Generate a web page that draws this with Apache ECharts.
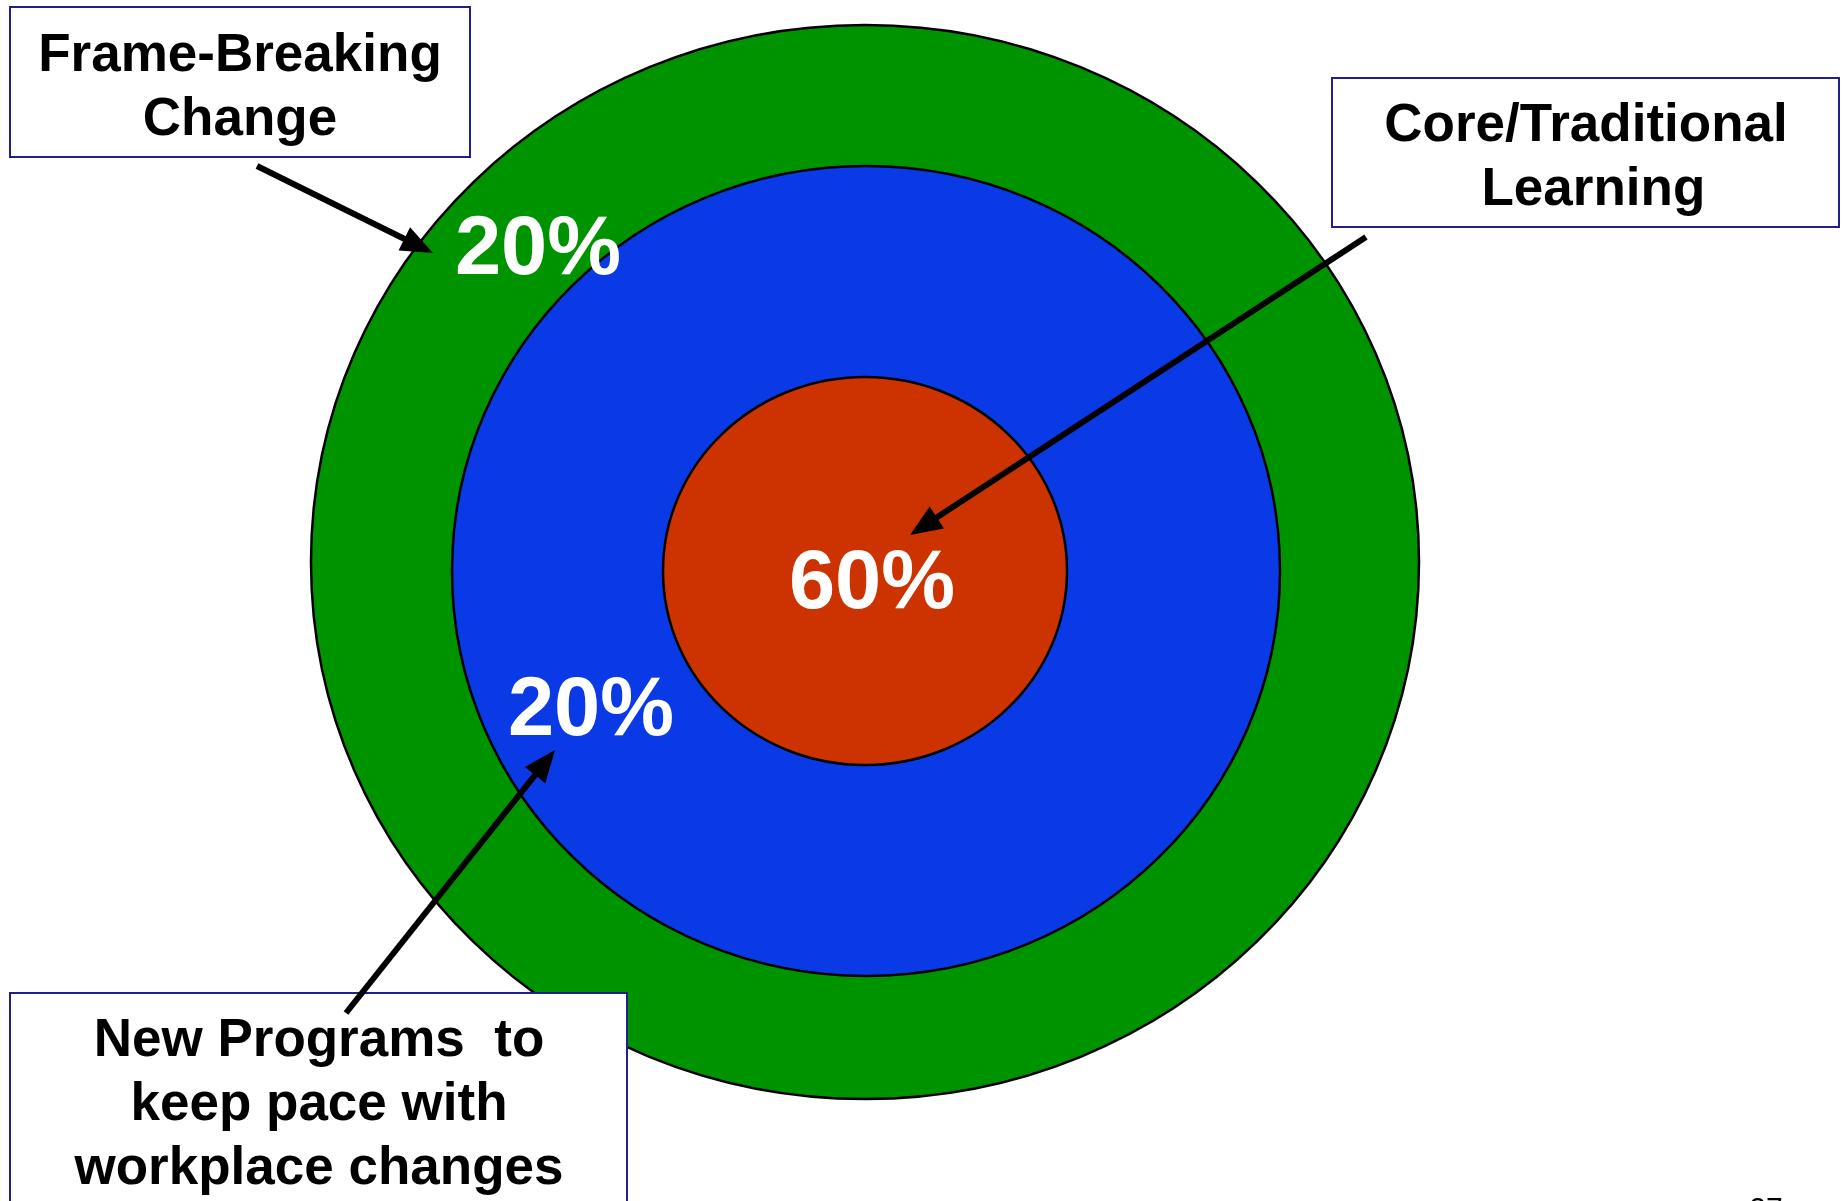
<!DOCTYPE html>
<html>
<head>
<meta charset="utf-8">
<title>Learning portfolio</title>
<script src="https://cdn.jsdelivr.net/npm/echarts@6/dist/echarts.min.js"></script>
<style>
  html, body { margin: 0; padding: 0; background: #ffffff; }
  #chart { width: 1846px; height: 1201px; }
</style>
</head>
<body>
<div id="chart"></div>
<script>
// Portfolio segments, outermost ring first, and their share of effort (%)
const segments = ['Frame-Breaking Change', 'New Programs to keep pace with workplace changes', 'Core/Traditional Learning'];
const shares = [20, 20, 60];

// Callout box texts, one entry per segment
const calloutLines = [
  ['Frame-Breaking', 'Change'],
  ['New Programs  to', 'keep pace with', 'workplace changes'],
  ['Core/Traditional', ' Learning']
];

const W = 1846, H = 1201;
const FONT = '"Liberation Sans", Arial, Helvetica, sans-serif';

// Ring geometry (page units) and label anchors for each segment
const ringLayout = [
  { cx: 865, cy: 562, rx: 554, ry: 537, fill: '#009300', label: [538, 251] },
  { cx: 866, cy: 571, rx: 414, ry: 405, fill: '#0a3ae6', label: [591, 712] },
  { cx: 865, cy: 571, rx: 202, ry: 194, fill: '#cc3300', label: [872, 585] }
];

// Callout boxes: rectangle, text centre, arrow start and tip
const calloutLayout = [
  { box: [10, 7, 460, 150],   text: [240, 88.5],  from: [257, 166],  to: [433, 253] },
  { box: [10, 993, 617, 260], text: [319, 1105.5], from: [346, 1013], to: [555, 750] },
  { box: [1332, 78, 507, 149], text: [1586, 158.5], from: [1366, 237], to: [910, 535] }
];

const chart = echarts.init(document.getElementById('chart'), null, { renderer: 'canvas' });

function arrowGraphics(from, to) {
  const dx = to[0] - from[0], dy = to[1] - from[1];
  const len = Math.sqrt(dx * dx + dy * dy);
  const ux = dx / len, uy = dy / len;
  const headLen = 32, headHalf = 13;
  const bx = to[0] - ux * headLen, by = to[1] - uy * headLen;
  return [
    {
      type: 'line',
      shape: { x1: from[0], y1: from[1], x2: bx + ux * 2, y2: by + uy * 2 },
      style: { stroke: '#000000', lineWidth: 6 },
      z: 20
    },
    {
      type: 'polygon',
      shape: { points: [
        [to[0], to[1]],
        [bx - uy * headHalf, by + ux * headHalf],
        [bx + uy * headHalf, by - ux * headHalf]
      ] },
      style: { fill: '#000000' },
      z: 20
    }
  ];
}

const graphics = [];
calloutLayout.forEach(function (c, i) {
  graphics.push({
    type: 'rect',
    shape: { x: c.box[0], y: c.box[1], width: c.box[2], height: c.box[3] },
    style: { fill: '#ffffff', stroke: '#20208c', lineWidth: 2 },
    z: 10
  });
  graphics.push({
    type: 'text',
    x: c.text[0], y: c.text[1],
    style: {
      text: calloutLines[i].join('\n'),
      font: 'bold 53px ' + FONT,
      fill: '#000000',
      align: 'center',
      verticalAlign: 'middle',
      lineHeight: 64
    },
    z: 11
  });
  arrowGraphics(c.from, c.to).forEach(function (g) { graphics.push(g); });
});

// Page number at the foot of the slide
graphics.push({
  type: 'text',
  x: 1766, y: 1195,
  style: { text: '27', font: '30px ' + FONT, fill: '#000000', align: 'center', verticalAlign: 'top' },
  z: 5
});

chart.setOption({
  animation: false,
  backgroundColor: '#ffffff',
  grid: { left: 0, top: 0, width: W, height: H },
  xAxis: { type: 'value', min: 0, max: W, show: false },
  yAxis: { type: 'value', min: 0, max: H, inverse: true, show: false },
  series: [{
    type: 'custom',
    name: 'Learning portfolio',
    coordinateSystem: 'cartesian2d',
    data: shares.map(function (v, i) { return { name: segments[i], value: [i, v] }; }),
    renderItem: function (params, api) {
      const g = ringLayout[api.value(0)];
      const c = api.coord([g.cx, g.cy]);
      const r = api.size([g.rx, g.ry]);
      const lp = api.coord(g.label);
      return {
        type: 'group',
        children: [
          {
            type: 'ellipse',
            shape: { cx: c[0], cy: c[1], rx: r[0], ry: r[1] },
            style: { fill: g.fill, stroke: '#000000', lineWidth: 2.5 }
          },
          {
            type: 'text',
            x: lp[0], y: lp[1],
            style: {
              text: api.value(1) + '%',
              font: 'bold 83px ' + FONT,
              fill: '#ffffff',
              align: 'center',
              verticalAlign: 'middle'
            },
            z2: 5
          }
        ]
      };
    }
  }],
  graphic: graphics
});
</script>
</body>
</html>
